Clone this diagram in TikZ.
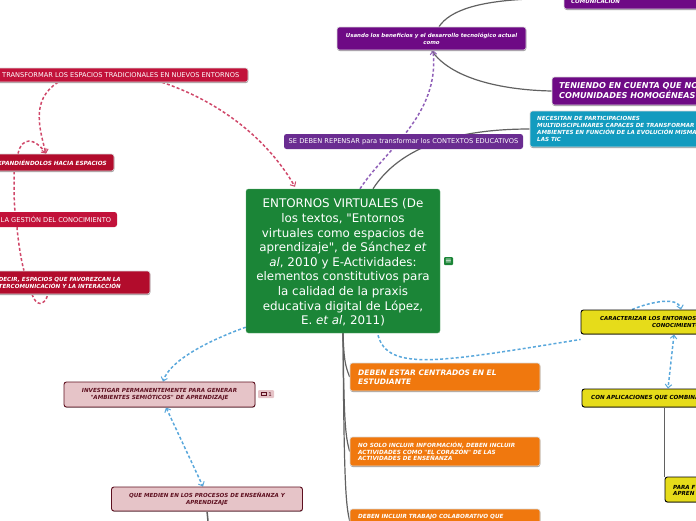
\documentclass[tikz,border=0pt]{standalone}
\usepackage{fontspec}
\setmainfont[Ligatures=TeXOff]{DejaVu Sans}
\usetikzlibrary{arrows.meta, shadows, backgrounds}
\definecolor{maingreen}{HTML}{1B8537}
\definecolor{darkpurple}{HTML}{6E0A85}
\definecolor{midpurple}{HTML}{6A2C91}
\definecolor{tealbox}{HTML}{129BBF}
\definecolor{redbox}{HTML}{C2123A}
\definecolor{darkred}{HTML}{B20C2C}
\definecolor{orangebox}{HTML}{F0780E}
\definecolor{yellowbox}{HTML}{E6DC1A}
\definecolor{pinkbox}{HTML}{E6C4C8}
\definecolor{wine}{HTML}{5E1020}
\definecolor{bluelink}{HTML}{5AA8DC}
\definecolor{bluetip}{HTML}{2F8AD0}
\definecolor{redlink}{HTML}{D0486A}
\definecolor{purplelink}{HTML}{9060B8}
\tikzset{
  topic/.style={rounded corners=2.5pt, inner sep=0pt, text=white},
  shadowed/.style={topic, draw=white!85!black, line width=0.6pt, general shadow={fill=black!40, shadow xshift=0.3pt, shadow yshift=-1pt}},
  boldtxt/.style 2 args={font=\fontsize{#1}{#2}\selectfont\bfseries\itshape},
  plaintxt/.style 2 args={font=\fontsize{#1}{#2}\selectfont},
  yellowtopic/.style={topic, fill=yellowbox, draw=black, line width=0.9pt, text=black, general shadow={fill=black!35, shadow xshift=0.3pt, shadow yshift=-0.8pt}},
  pinktopic/.style={topic, fill=pinkbox, draw=wine, line width=0.9pt, text=wine, general shadow={fill=black!35, shadow xshift=0.3pt, shadow yshift=-0.8pt}},
  orangetopic/.style={shadowed, fill=orangebox, minimum width=190pt},
  cliplabel/.style={inner sep=0pt, text=white},
  solidlink/.style={draw=black!62, line width=1.2pt},
  dashlink/.style={dash pattern=on 3pt off 2.2pt, line width=1.5pt},
  barbtip/.style={-{Straight Barb[length=3.5pt,width=6.5pt,line width=1pt]}},
  redarrow/.style={dashlink, draw=redlink, barbtip},
  blueend/.style={dashlink, draw=bluelink, barbtip},
  bluearrow/.style={blueend, {Straight Barb[length=3.5pt,width=6.5pt,line width=1pt]}-{Straight Barb[length=3.5pt,width=6.5pt,line width=1pt]}},
}
\begin{document}
\begin{tikzpicture}[x=1pt, y=-1pt]
\useasboundingbox (0,0) rectangle (696,520);
\clip (0,0) rectangle (696,520);

% boxes
\node[topic, fill=maingreen, draw=maingreen!70!white, minimum width=194pt, minimum height=144pt, align=center, plaintxt={11.9}{14.6}] (main) at (343,261) {\rule{0pt}{12pt}ENTORNOS VIRTUALES (De\\los textos, "Entornos\\virtuales como espacios de\\aprendizaje", de Sánchez \textit{et}\\\textit{al}, 2010 y E-Actividades:\\elementos constitutivos para\\la calidad de la praxis\\educativa digital de López,\\E. \textit{et al}, 2011)};

\node[shadowed, fill=darkpurple, minimum width=189pt, minimum height=23pt, align=center, boldtxt={5.45}{7}] (usando) at (431.5,38.5) {Usando los beneficios y el desarrollo tecnológico actual\\como};
\node[shadowed, fill=darkpurple, minimum width=140pt, minimum height=20pt] (comun) at (634,-1) {};
\node[shadowed, fill=darkpurple, minimum width=160pt, minimum height=28pt] (teniendo) at (632,91) {};
\node[shadowed, fill=tealbox, minimum width=190pt, minimum height=36pt] (necesitan) at (625,129) {};
\node[topic, fill=midpurple, minimum width=239pt, minimum height=15pt, plaintxt={6.65}{8}] (repensar) at (403.5,141.5) {SE DEBEN REPENSAR para transformar los CONTEXTOS EDUCATIVOS};

\node[shadowed, fill=redbox, minimum width=254pt, minimum height=14pt] (transformar) at (121,75) {};
\node[shadowed, fill=darkred, minimum width=120pt, minimum height=17pt] (expand) at (54,162.5) {};
\node[topic, fill=redbox, minimum width=122pt, minimum height=15pt] (gestion) at (56,219.5) {};
\node[shadowed, fill=darkred, minimum width=156pt, minimum height=23pt] (decir) at (72,282.5) {};

\node[yellowtopic, minimum width=130pt, minimum height=24pt] (caract) at (646,322) {};
\node[yellowtopic, minimum width=130pt, minimum height=18pt] (aplic) at (647,398) {};
\node[yellowtopic, minimum width=50pt, minimum height=25pt] (parafree) at (690,489.5) {};

\node[orangetopic, minimum height=28pt] (centrados) at (445,377) {};
\node[orangetopic, minimum height=29pt] (nosolo) at (445,451.5) {};
\node[orangetopic, minimum height=24pt] (colab) at (445,521) {};

\node[pinktopic, minimum width=191pt, minimum height=25pt, align=center, boldtxt={5.6}{7}] (investigar) at (159.5,394.5) {INVESTIGAR PERMANENTEMENTE PARA GENERAR\\"AMBIENTES SEMIÓTICOS" DE APRENDIZAJE};
\node[pinktopic, minimum width=191pt, minimum height=24pt, align=center, boldtxt={5.55}{6.2}] (medien) at (207,499) {QUE MEDIEN EN LOS PROCESOS DE ENSEÑANZA Y\\APRENDIZAJE};

\node[rounded corners=1pt, fill=maingreen, minimum width=9pt, minimum height=8pt, inner sep=0pt, text=white, plaintxt={8}{8}] (maintag) at (448.5,261) {≡};
\node[rounded corners=1pt, fill=pinkbox, minimum width=16pt, minimum height=8pt, inner sep=0pt, text=wine, plaintxt={5.5}{6}] (invtag) at (266,394) {\hspace*{8pt}1};
\draw[wine, line width=0.8pt] (261.5,392.5) rectangle (266,395.5);

% labels of the boxes that run off the page
\node[cliplabel, anchor=west, plaintxt={6.65}{8}] (ltransformar) at (2,74.7) {TRANSFORMAR LOS ESPACIOS TRADICIONALES EN NUEVOS ENTORNOS};
\node[cliplabel, anchor=east, boldtxt={5.7}{7}] (lexpand) at (107,162.5) {EXPANDIÉNDOLOS HACIA ESPACIOS};
\node[cliplabel, anchor=west, plaintxt={6.65}{8}] (lgestion) at (0.5,219.5) {LA GESTIÓN DEL CONOCIMIENTO};
\node[cliplabel, anchor=east, align=right, boldtxt={5.6}{6}] (ldecir) at (121,282.5) {DECIR, ESPACIOS QUE FAVOREZCAN LA\\INTERCOMUNICACIÓN Y LA INTERACCIÓN};
\node[cliplabel, anchor=west, boldtxt={5.5}{6}] (lcomun) at (571,1) {COMUNICACIÓN};
\node[cliplabel, anchor=west, align=left, boldtxt={8.1}{10}] (lteniendo) at (559,90.5) {TENIENDO EN CUENTA QUE NO\\COMUNIDADES HOMOGÉNEAS};
\node[cliplabel, anchor=west, align=left, boldtxt={5.6}{6.7}] (lnecesitan) at (537,129) {NECESITAN DE PARTICIPACIONES\\MULTIDISCIPLINARES CAPACES DE TRANSFORMAR\\AMBIENTES EN FUNCIÓN DE LA EVOLUCIÓN MISMA\\LAS TIC};
\node[cliplabel, text=black, anchor=west, align=left, boldtxt={5.45}{7}] (lcaract) at (600,322.5) {CARACTERIZAR LOS ENTORNOS\\\hspace*{52pt}CONOCIMIENTO};
\node[cliplabel, text=black, anchor=west, boldtxt={5.6}{7}] (laplic) at (591,398) {CON APLICACIONES QUE COMBINAN};
\node[cliplabel, text=black, anchor=west, align=left, boldtxt={5.6}{6}] (lpara) at (673,490) {PARA F\\APREN};
\node[cliplabel, anchor=west, align=left, boldtxt={7.5}{9.2}] (lcentrados) at (358,377) {DEBEN ESTAR CENTRADOS EN EL\\ESTUDIANTE};
\node[cliplabel, anchor=west, align=left, boldtxt={5.68}{6.5}] (lnosolo) at (358,451.5) {NO SOLO INCLUIR INFORMACIÓN, DEBEN INCLUIR\\ACTIVIDADES COMO "EL CORAZÓN" DE LAS\\ACTIVIDADES DE ENSEÑANZA};
\node[cliplabel, anchor=west, boldtxt={5.65}{6.5}] (lcolab) at (358,516.7) {DEBEN INCLUIR TRABAJO COLABORATIVO QUE};

\coordinate (topfree) at (530,-1);
\coordinate (medienfree) at (208,521);

% links go under the boxes
\begin{scope}[on background layer]
\draw[solidlink] ([xshift=7.5pt]usando.north) .. controls (450,10) and (480,1) .. (topfree);
\draw[solidlink] (usando.south) .. controls (450,78) and (500,90) .. (teniendo.west);
\draw[solidlink] ([xshift=30pt]main.north) .. controls (395,155) and (440,129) .. (necesitan.west);
\draw[solidlink] (main.south) .. controls (344,360) and (345,365) .. (centrados.west);
\draw[solidlink] (main.south) .. controls (344,420) and (345,435) .. (nosolo.west);
\draw[solidlink] (main.south) .. controls (344,490) and (346,505) .. (colab.west);
\draw[solidlink, line width=1.5pt] (medien.south |- 0,511) -- (medienfree);
\draw[solidlink, line width=1.4pt] (aplic.south -| parafree.west) -- (parafree.north west);

\draw[dashlink, draw=purplelink, barbtip] ([xshift=17pt]main.north) .. controls (385,150) and (440,115) .. ([xshift=1.5pt]usando.south);
\draw[redarrow] ([xshift=41pt]transformar.south) .. controls (215,100) and (265,135) .. ([xshift=-48pt,yshift=2pt]main.north);
\draw[redarrow] ([xshift=-63pt]transformar.south) .. controls (30,100) and (40,130) .. ([xshift=-8pt]expand.north);
\draw[redarrow] ([xshift=-36pt]expand.north) .. controls (22,136) and (35,138) .. ([xshift=-8pt]expand.north);
\draw[dashlink, draw=redlink] ([xshift=-40pt]expand.south) .. controls (14,190) and (14,200) .. ([xshift=-41pt]gestion.north);
\draw[dashlink, draw=redlink] ([xshift=-39pt]gestion.south) .. controls (18,240) and (21,260) .. ([xshift=-48pt]decir.north);
\draw[dashlink, draw=redlink] ([xshift=-40pt]decir.south) .. controls (36,306) and (44,307) .. ([xshift=-24pt]decir.south);
\draw[blueend] (main.south west) ++(0,-6) .. controls (210,340) and (170,360) .. ([xshift=3.5pt]investigar.north);
\draw[bluearrow] ([xshift=6.5pt]investigar.south) -- ([xshift=-4pt]medien.north);
\draw[dashlink, draw=bluelink] ([xshift=35pt,yshift=-2pt]main.south) .. controls (388,372) and (440,362) .. ([yshift=-5pt]caract.south west);
\draw[blueend] ([xshift=-14pt]caract.north) .. controls (650,302) and (678,296) .. ([xshift=35pt]caract.north);
\draw[bluearrow] ([xshift=28pt]caract.south) -- ([xshift=21pt]aplic.north);
\end{scope}
\end{tikzpicture}
\end{document}
